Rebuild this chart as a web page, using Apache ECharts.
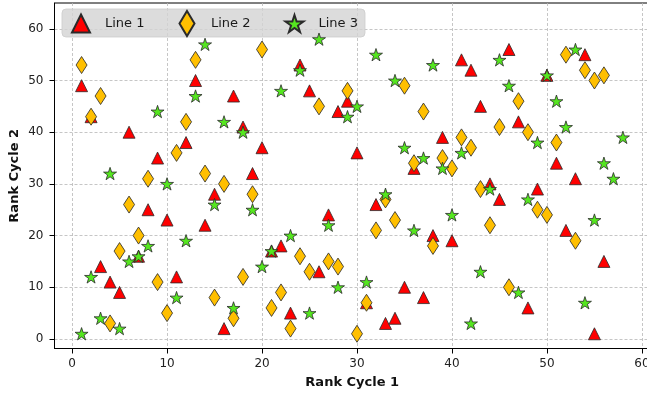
<!DOCTYPE html>
<html>
<head>
<meta charset="utf-8">
<script src="https://cdn.jsdelivr.net/npm/echarts@6/dist/echarts.min.js"></script>
<style>
  html, body { margin: 0; padding: 0; background: #ffffff; }
  #chart { width: 647px; height: 398px; }
</style>
</head>
<body>
<div id="chart"></div>
<script>
// Rank of each item in cycle 1 (x) and cycle 2 (y), one pair of arrays per line
const seriesNames = ['Line 1', 'Line 2', 'Line 3'];

const line1Cycle1 = [1, 2, 3, 4, 5, 6, 7, 8, 9, 10, 11, 12, 13, 14, 15, 16, 17, 18, 19, 20,
  21, 22, 23, 24, 25, 26, 27, 28, 29, 30, 31, 32, 33, 34, 35, 36, 37, 38, 39, 40,
  41, 42, 43, 44, 45, 46, 47, 48, 49, 50, 51, 52, 53, 54, 55, 56];
const line1Cycle2 = [49, 43, 14, 11, 9, 40, 16, 25, 35, 23, 12, 38, 50, 22, 28, 2, 47, 41, 32, 37,
  17, 18, 5, 53, 48, 13, 24, 44, 46, 36, 7, 26, 3, 4, 10, 33, 8, 20, 39, 19,
  54, 52, 45, 30, 27, 56, 42, 6, 29, 51, 34, 21, 31, 55, 1, 15];

const line2Cycle1 = [1, 2, 3, 4, 5, 6, 7, 8, 9, 10, 11, 12, 13, 14, 15, 16, 17, 18, 19, 20,
  21, 22, 23, 24, 25, 26, 27, 28, 29, 30, 31, 32, 33, 34, 35, 36, 37, 38, 39, 40,
  41, 42, 43, 44, 45, 46, 47, 48, 49, 50, 51, 52, 53, 54, 55, 56];
const line2Cycle2 = [53, 43, 47, 3, 17, 26, 20, 31, 11, 5, 36, 42, 54, 32, 8, 30, 4, 12, 28, 56,
  6, 9, 2, 16, 13, 45, 15, 14, 48, 1, 7, 21, 27, 23, 49, 34, 44, 18, 35, 33,
  39, 37, 29, 22, 41, 10, 46, 40, 25, 24, 38, 55, 19, 52, 50, 51];

const line3Cycle1 = [1, 2, 3, 4, 5, 6, 7, 8, 9, 10, 11, 12, 13, 14, 15, 16, 17, 18, 19, 20,
  21, 22, 23, 24, 25, 26, 27, 28, 29, 30, 31, 32, 33, 34, 35, 36, 37, 38, 39, 40,
  41, 42, 43, 44, 45, 46, 47, 48, 49, 50, 51, 52, 53, 54, 55, 56, 57, 58];
const line3Cycle2 = [1, 12, 4, 32, 2, 15, 16, 18, 44, 30, 8, 19, 47, 57, 26, 42, 6, 40, 25, 14,
  17, 48, 20, 52, 5, 58, 22, 10, 43, 45, 11, 55, 28, 50, 37, 21, 35, 53, 33, 24,
  36, 3, 13, 29, 54, 49, 9, 27, 38, 51, 46, 41, 56, 7, 23, 34, 31, 39];

const xTicks = [0, 10, 20, 30, 40, 50, 60];
const yTicks = [0, 10, 20, 30, 40, 50, 60];

const FONT = 'DejaVu Sans';

// marker outlines
const STAR = 'path://M100,0 L122.45,69.1 L195.1,69.1 L136.33,111.8 L158.8,180.9 L100,138.2 L41.2,180.9 L63.67,111.8 L4.9,69.1 L77.55,69.1 Z';
const TRI = 'path://M50,0 L100,100 L0,100 Z';
const DIAMOND = 'path://M30,0 L60,50 L30,100 L0,50 Z';

function zipPairs(xs, ys) {
  return xs.map((x, i) => [x, ys[i]]);
}

const edge = { borderColor: '#2a2a2a', borderWidth: 0.8 };

const chart = echarts.init(document.getElementById('chart'), null, { renderer: 'canvas' });

const gridLine = { show: true, lineStyle: { color: '#b8b8b8', width: 0.8, type: [3, 2] } };

chart.setOption({
  animation: false,
  backgroundColor: '#ffffff',
  textStyle: { fontFamily: FONT },
  grid: {
    left: 54.5, right: -3, top: 3, bottom: 49.5,
    show: true, borderColor: '#000000', borderWidth: 1,
    containLabel: false,
    outerBoundsMode: 'none'
  },
  legend: {
    left: 62, top: 9,
    padding: [1, 7, 0, 9],
    itemWidth: 18, itemHeight: 25, itemGap: 34,
    backgroundColor: 'rgba(211,211,211,0.8)',
    borderColor: 'rgba(204,204,204,0.8)', borderWidth: 1, borderRadius: 4,
    textStyle: { fontFamily: FONT, fontSize: 13, color: '#1a1a1a', padding: [0, 0, 0, 10] },
    data: [
      { name: seriesNames[0], icon: TRI },
      { name: seriesNames[1], icon: DIAMOND },
      { name: seriesNames[2], icon: STAR }
    ]
  },
  xAxis: {
    type: 'value', min: -1.85, max: 60.85,
    name: 'Rank Cycle 1', nameLocation: 'middle', nameGap: 28, nameMoveOverlap: false,
    nameTextStyle: { fontFamily: FONT, fontSize: 13, fontWeight: 'bold', color: '#111' },
    axisLine: { show: true, onZero: false, lineStyle: { color: '#000', width: 1 } },
    axisTick: { show: true, length: 5, lineStyle: { color: '#000', width: 1 }, customValues: xTicks },
    axisLabel: { fontFamily: FONT, fontSize: 12, color: '#222', margin: 9, customValues: xTicks },
    splitLine: gridLine
  },
  yAxis: {
    type: 'value', min: -1.85, max: 65,
    name: 'Rank Cycle 2', nameLocation: 'middle', nameGap: 33, nameRotate: 90, nameMoveOverlap: false,
    nameTextStyle: { fontFamily: FONT, fontSize: 13, fontWeight: 'bold', color: '#111' },
    axisLine: { show: true, onZero: false, lineStyle: { color: '#000', width: 1 } },
    axisTick: { show: true, length: 5, lineStyle: { color: '#000', width: 1 }, customValues: yTicks },
    axisLabel: { fontFamily: FONT, fontSize: 12, color: '#222', margin: 11, customValues: yTicks },
    splitLine: gridLine
  },
  series: [
    {
      name: seriesNames[0], type: 'scatter',
      symbol: 'triangle', symbolSize: 12,
      itemStyle: Object.assign({ color: '#ff0000', opacity: 1 }, edge),
      data: zipPairs(line1Cycle1, line1Cycle2), z: 3
    },
    {
      name: seriesNames[1], type: 'scatter',
      symbol: 'diamond', symbolSize: [11, 17],
      itemStyle: Object.assign({ color: '#ffbf00', opacity: 1 }, edge),
      data: zipPairs(line2Cycle1, line2Cycle2), z: 4
    },
    {
      name: seriesNames[2], type: 'scatter',
      symbol: STAR, symbolSize: 13, symbolKeepAspect: true,
      itemStyle: Object.assign({ color: '#55e61f', opacity: 1 }, edge),
      data: zipPairs(line3Cycle1, line3Cycle2), z: 5
    }
  ]
});
</script>
</body>
</html>
